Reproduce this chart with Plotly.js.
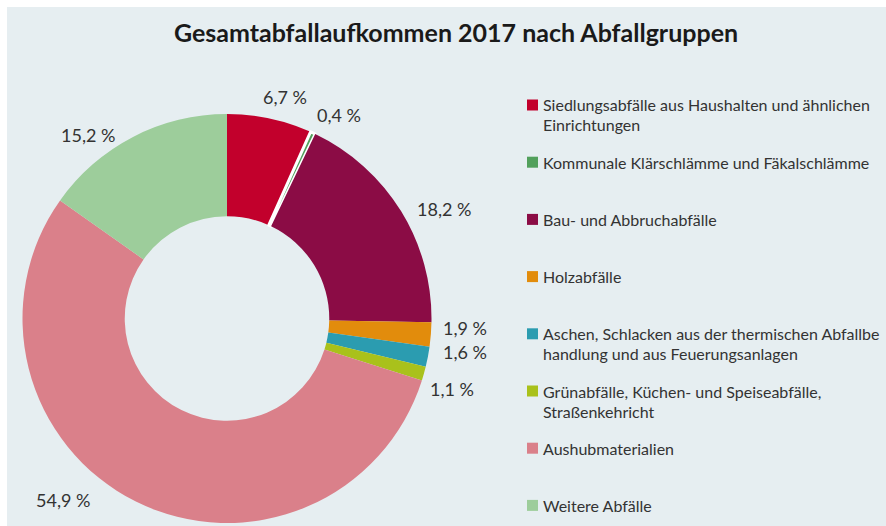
<!DOCTYPE html>
<html>
<head>
<meta charset="utf-8">
<script src="https://cdn.plot.ly/plotly-3.0.1.min.js"></script>
<style>
html,body{margin:0;padding:0;background:#ffffff;}
#chart{width:886px;height:526px;}
</style>
</head>
<body>
<div id="chart"></div>
<script>
const categories = [
  "Siedlungsabfälle aus Haushalten und ähnlichen<br>Einrichtungen",
  "Kommunale Klärschlämme und Fäkalschlämme",
  "Bau- und Abbruchabfälle",
  "Holzabfälle",
  "Aschen, Schlacken aus der thermischen Abfallbe<br>handlung und aus Feuerungsanlagen",
  "Grünabfälle, Küchen- und Speiseabfälle,<br>Straßenkehricht",
  "Aushubmaterialien",
  "Weitere Abfälle"
];
const shares = [6.7, 0.4, 18.2, 1.9, 1.6, 1.1, 54.9, 15.2];
const colors = ["#c2002c", "#52a05c", "#8b0c45", "#e28c0c", "#2b9cb0", "#a9c11b", "#da808a", "#9dcd9b"];

const W = 886, H = 526;
const px = x => x / W;
const py = y => 1 - y / H;
const FONT = "Lato, 'Open Sans', sans-serif";

const domX = [px(20), px(434)];
const domY = [py(523), py(114)];

const lineColors = shares.map((v, i) => i === 1 ? "#ffffff" : "rgba(0,0,0,0)");
const lineWidths = shares.map((v, i) => i === 1 ? 3 : 0);

const trace = {
  type: "pie",
  values: shares,
  labels: categories,
  marker: {colors: colors, line: {color: lineColors, width: lineWidths}},
  hole: 0.5,
  sort: false,
  direction: "clockwise",
  rotation: 0,
  textinfo: "none",
  showlegend: false,
  hoverinfo: "label+value",
  domain: {x: domX, y: domY}
};

const shapes = [{
  type: "rect", xref: "paper", yref: "paper", layer: "below",
  x0: px(7), x1: 1, y0: 0, y1: py(7),
  fillcolor: "#e6eef1", line: {width: 0}
}];
const annotations = [];

// custom legend
categories.forEach((name, i) => {
  const yc = 105 + i * 57.2;
  shapes.push({
    type: "rect", xref: "paper", yref: "paper",
    x0: px(527), x1: px(538), y0: py(yc + 5.5), y1: py(yc - 5.5),
    fillcolor: colors[i], line: {width: 0}
  });
  name.split("<br>").forEach((line, j) => {
    annotations.push({
      xref: "paper", yref: "paper", x: px(541), y: py(yc + j * 20),
      xanchor: "left", yanchor: "middle", showarrow: false,
      text: line,
      font: {family: FONT, size: 16, color: "#333333"}
    });
  });
});

// percentage labels placed around the ring, derived from each slice's mid angle
const cx = (domX[0] + domX[1]) / 2 * W;
const cy = (1 - (domY[0] + domY[1]) / 2) * H;
const labelAngleShift = [2.7, 4.0, 4.9, -2.2, -2.8, 1.7, 15.7, -9.8];
const labelRadius = [229, 232, 243, 238, 240, 236, 245, 230];
const total = shares.reduce((a, b) => a + b, 0);
let cum = 0;
shares.forEach((v, i) => {
  const mid = (cum + v / 2) / total * 360;
  cum += v;
  const a = (mid + labelAngleShift[i]) * Math.PI / 180;
  const x = cx + labelRadius[i] * Math.sin(a);
  const y = cy - labelRadius[i] * Math.cos(a);
  annotations.push({
    xref: "paper", yref: "paper", x: px(x), y: py(y),
    xanchor: "center", yanchor: "middle", showarrow: false,
    text: v.toFixed(1).replace(".", ",") + " %",
    font: {family: FONT, size: 18, color: "#333333"}
  });
});

const layout = {
  width: W, height: H,
  margin: {l: 0, r: 0, t: 0, b: 0},
  paper_bgcolor: "#ffffff",
  title: {
    text: "<b>Gesamtabfallaufkommen 2017 nach Abfallgruppen</b>",
    x: px(456), xanchor: "center", y: py(33), yanchor: "middle",
    xref: "paper", yref: "paper",
    font: {family: FONT, size: 25, color: "#1a1a1a"}
  },
  shapes: shapes,
  annotations: annotations
};

Plotly.newPlot("chart", [trace], layout, {displayModeBar: false, staticPlot: true});
</script>
</body>
</html>
